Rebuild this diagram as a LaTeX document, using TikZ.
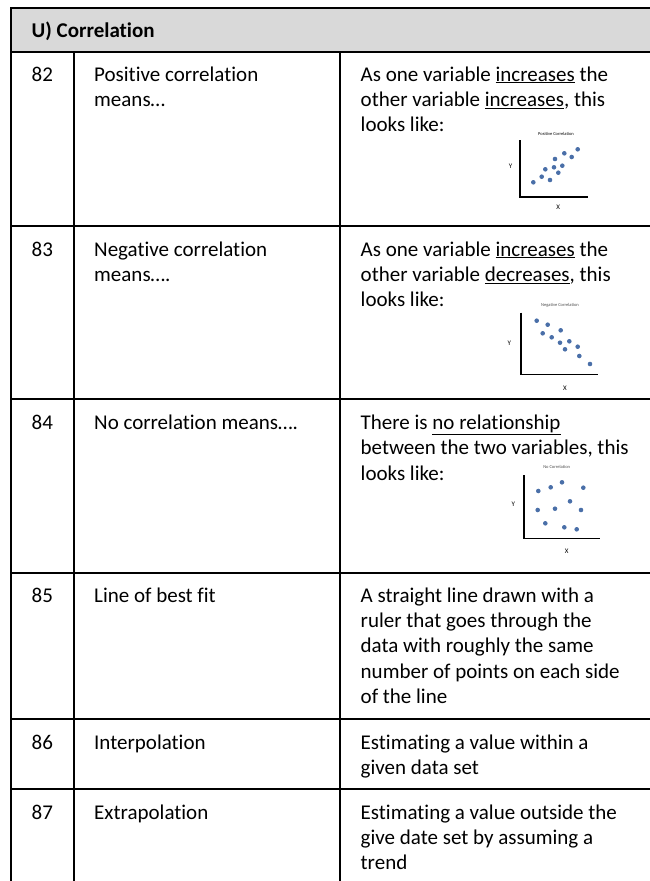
\documentclass[tikz,border=0pt]{standalone}
\usepackage{fontspec}
\setmainfont{Carlito}[Ligatures={NoCommon}]
\definecolor{hdr}{HTML}{D9D9D9}
\definecolor{dot}{HTML}{4A6FA8}
\tikzset{
  grid/.style={line width=2.3pt, line cap=rect},
  cell/.style={anchor=base west, inner sep=0pt, font=\fontsize{21}{25.4}\selectfont},
  ptitle/.style={inner sep=0pt, font=\fontsize{4.5}{5}\selectfont, text=black!70},
  plab/.style={inner sep=0pt, font=\fontsize{7}{8}\selectfont},
  axis/.style={line width=1.1pt},
  pt/.style={circle, fill=dot, inner sep=0pt, minimum size=4.6pt}
}
\newcommand{\cellpar}[1]{\parbox[t]{290pt}{\raggedright\fontsize{21}{25.4}\selectfont #1}}
\begin{document}
\begin{tikzpicture}[x=1pt,y=-1pt]
\useasboundingbox (0,0) rectangle (650,881);
% header
\fill[hdr] (11,8) rectangle (660,52);
\draw[grid] (660,8) -- (11,8) -- (11,890);
\draw[grid] (11,52) -- (660,52);
\draw[grid] (74,52) -- (74,890);
\draw[grid] (340,52) -- (340,890);
\foreach \yy in {226,399,573,719,789} \draw[grid] (11,\yy) -- (660,\yy);
\node[cell, font=\fontsize{21}{25.4}\selectfont\bfseries] (h) at (31.5,37.5) {U) Correlation};
% numbers
\node[cell] (n82) at (31.5,81) {82};
\node[cell] (n83) at (31.5,256) {83};
\node[cell] (n84) at (31.5,429.5) {84};
\node[cell] (n85) at (31.5,602) {85};
\node[cell] (n86) at (31.5,749) {86};
\node[cell] (n87) at (31.5,819) {87};
% terms
\node[cell] (t82) at (94,81) {\cellpar{Positive correlation\\means…}};
\node[cell] (t83) at (94,256) {\cellpar{Negative correlation\\means….}};
\node[cell] (t84) at (94,429.5) {No correlation means….};
\node[cell] (t85) at (94,602) {Line of best fit};
\node[cell] (t86) at (94,749) {Interpolation};
\node[cell] (t87) at (94,819) {Extrapolation};
% definitions
\node[cell] (d82) at (360.5,81) {\cellpar{As one variable \underline{increases} the\\other variable \underline{increases}, this\\looks like:}};
\node[cell] (d83) at (360.5,256) {\cellpar{As one variable \underline{increases} the\\other variable \underline{decreases}, this\\looks like:}};
\node[cell] (d84) at (360.5,429.5) {\cellpar{There is \underline{no relationship}\\between the two variables, this\\looks like:}};
\node[cell] (d85) at (360.5,602) {\cellpar{A straight line drawn with a\\ruler that goes through the\\data with roughly the same\\number of points on each side\\of the line}};
\node[cell] (d86) at (360.5,749) {\cellpar{Estimating a value within a\\given data set}};
\node[cell] (d87) at (360.5,819) {\cellpar{Estimating a value outside the\\give date set by assuming a\\trend}};
% plot 1: positive
\draw[axis] (520,140) -- (520,197) -- (588,197);
\node[ptitle, text=black] (p1t) at (556,134) {Positive Correlation};
\node[plab] (p1y) at (510.7,166.7) {Y};
\node[plab] (p1x) at (558.3,207.7) {X};
\foreach \px/\py in {533.3/182.3,541.7/176.7,545.3/169.3,550/180,554/167.3,555/159,558.3/172.7,562.3/165.7,564.3/153.3,571.7/157,577.7/149.3}
  \node[pt] at (\px,\py) {};
% plot 2: negative
\draw[axis] (521,312.7) -- (521,374.3) -- (598,374.3);
\node[ptitle] (p2t) at (560,305) {Negative Correlation};
\node[plab] (p2y) at (509.3,343.3) {Y};
\node[plab] (p2x) at (565,388.3) {X};
\foreach \px/\py in {536.7/320.7,547.7/324.7,542.7/333.3,551.7/337.3,560.7/330.3,560/342.7,569.3/341.3,565/349.3,577.7/346.7,579.3/356,590/364}
  \node[pt] at (\px,\py) {};
% plot 3: none
\draw[axis] (524,475) -- (524,538.3) -- (600,538.3);
\node[ptitle] (p3t) at (556.7,467.3) {No Correlation};
\node[plab] (p3y) at (513.3,504.3) {Y};
\node[plab] (p3x) at (566.7,551.7) {X};
\foreach \px/\py in {538.3/491,550.7/487.3,562/482.3,583.3/487.7,570/501.3,537.7/510,555/508.7,581/510,545.3/523.3,564.3/527.3,576.7/529.3}
  \node[pt] at (\px,\py) {};
\end{tikzpicture}
\end{document}
